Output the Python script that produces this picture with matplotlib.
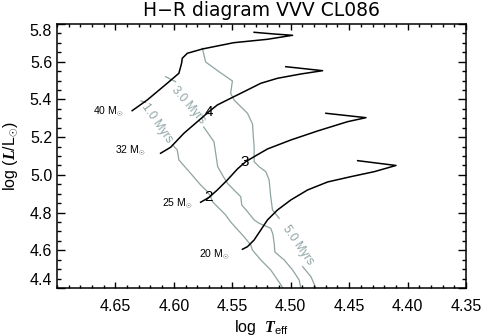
import numpy as np
import matplotlib
matplotlib.use('Agg')
import matplotlib.pyplot as plt
from matplotlib.ticker import MultipleLocator

plt.rcParams['font.family'] = ['Liberation Sans', 'DejaVu Sans']
plt.rcParams['mathtext.fontset'] = 'custom'
plt.rcParams['mathtext.rm'] = 'Liberation Sans'
plt.rcParams['mathtext.it'] = 'Liberation Serif:italic:bold'
plt.rcParams['mathtext.bf'] = 'Liberation Serif:bold'

# evolutionary tracks (log Teff, log L/Lsun)
t40_logT = [4.6357, 4.6228, 4.6057, 4.5957, 4.5934, 4.5928, 4.5885, 4.5756,
            4.5488, 4.5199, 4.5059, 4.4984, 4.5144, 4.5313]
t40_logL = [5.3403, 5.3970, 5.4856, 5.5386, 5.5916, 5.6181, 5.6446, 5.6674,
            5.7008, 5.7189, 5.7327, 5.7401, 5.7470, 5.7560]

t32_logT = [4.6114, 4.6028, 4.5914, 4.5799, 4.5700, 4.5628, 4.5514, 4.5400,
            4.5256, 4.5113, 4.4913, 4.4727, 4.5042]
t32_logL = [5.1144, 5.1462, 5.2205, 5.2820, 5.3350, 5.3705, 5.4060, 5.4410,
            5.4856, 5.5121, 5.5349, 5.5524, 5.5736]

t25_logT = [4.5771, 4.5700, 4.5628, 4.5542, 4.5456, 4.5385, 4.5313, 4.5199,
            4.4999, 4.4770, 4.4513, 4.4356, 4.4699]
t25_logL = [4.8546, 4.8801, 4.9198, 4.9729, 5.0312, 5.0699, 5.0964, 5.1372,
            5.1849, 5.2327, 5.2820, 5.3032, 5.3265]

t20_logT = [4.5413, 4.5370, 4.5313, 4.5256, 4.5199, 4.5113, 4.4999, 4.4856,
            4.4684, 4.4485, 4.4285, 4.4099, 4.4427]
t20_logL = [4.6054, 4.6192, 4.6547, 4.7077, 4.7608, 4.8138, 4.8668, 4.9198,
            4.9623, 4.9904, 5.0169, 5.0497, 5.0752]

tracks = [(t40_logT, t40_logL), (t32_logT, t32_logL),
          (t25_logT, t25_logL), (t20_logT, t20_logL)]
track_names = ['40 M$_{\\odot}$', '32 M$_{\\odot}$', '25 M$_{\\odot}$', '20 M$_{\\odot}$']
name_x = [4.6431, 4.6242, 4.5842, 4.5528]
name_y = [5.3387, 5.1319, 4.8525, 4.5800]

# isochrones (nan = gap where the label sits)
iso1_logT = [4.6281, 4.6242, np.nan, 4.6011, 4.5971, 4.5957, 4.5857, 4.5771,
             4.5713, 4.5685, 4.5670, 4.5614, 4.5557, 4.5514, 4.5400, 4.5342,
             4.5328, 4.5256, 4.5171, 4.5055]
iso1_logL = [5.3917, 5.3838, np.nan, 5.1584, 5.1319, 5.0789, 5.0084, 4.9463,
             4.9108, 4.8843, 4.8578, 4.8228, 4.7873, 4.7502, 4.6722, 4.6282,
             4.6017, 4.5487, 4.4957, 4.3900]

iso3_logT = [4.6071, 4.5985, np.nan, 4.5745, 4.5657, 4.5642, 4.5625, 4.5585,
             4.5542, 4.5471, 4.5428, 4.5419, 4.5370, 4.5313, 4.5271, 4.5171,
             4.5153, 4.5140, 4.5136, 4.5056, 4.4984, 4.4928, 4.4910]
iso3_logL = [5.5206, 5.4941, np.nan, 5.2539, 5.1759, 5.1144, 5.0434, 4.9994,
             4.9554, 4.9108, 4.8843, 4.8403, 4.8048, 4.7608, 4.7433, 4.7168,
             4.6866, 4.6282, 4.5910, 4.5487, 4.4957, 4.4427, 4.3900]

iso5_logT = [4.5756, 4.5728, 4.5614, 4.5499, 4.5514, 4.5485, 4.5370, 4.5327,
             4.5320, 4.5313, 4.5313, 4.5271, 4.5213, 4.5185, 4.5171, 4.5156,
             4.5099, np.nan, 4.4898, 4.4827, 4.4778]
iso5_logL = [5.6712, 5.5985, 5.5471, 5.4978, 5.4326, 5.3970, 5.3265, 5.2698,
             5.2024, 5.1494, 5.0699, 5.0434, 5.0169, 4.9729, 4.8843, 4.8138,
             4.7698, np.nan, 4.5132, 4.4601, 4.3900]

isochrones = [(iso1_logT, iso1_logL), (iso3_logT, iso3_logL), (iso5_logT, iso5_logL)]
iso_labels = ['1.0 Myrs', '3.0 Myrs', '5.0 Myrs']
iso_lab_x = [4.6142, 4.5878, 4.4941]
iso_lab_y = [5.2735, 5.3705, 4.6282]
iso_lab_rot = [-55, -49, -55]

# numbers written on the tracks
mark_text = ['4', '3', '2']
mark_x = [4.5702, 4.5390, 4.5702]
mark_y = [5.3334, 5.0699, 4.8827]

iso_color = '#8fa3a3'

fig = plt.figure(figsize=(4.84, 3.36), dpi=100)
ax = fig.add_axes([0.1178, 0.1429, 0.845, 0.7857])

for (lt, ll) in isochrones:
    ax.plot(lt, ll, color=iso_color, lw=0.9, zorder=1)
for i in range(len(iso_labels)):
    ax.text(iso_lab_x[i], iso_lab_y[i], iso_labels[i], color=iso_color,
            fontsize=8.5, rotation=iso_lab_rot[i], rotation_mode='anchor',
            ha='center', va='center', zorder=2)

for (lt, ll) in tracks:
    ax.plot(lt, ll, color='black', lw=1.1, zorder=3)
for i in range(len(track_names)):
    ax.text(name_x[i], name_y[i], track_names[i], fontsize=7.5,
            ha='right', va='center', zorder=4)
for i in range(len(mark_text)):
    ax.text(mark_x[i], mark_y[i], mark_text[i], fontsize=11,
            ha='center', va='center', zorder=4)

ax.set_xlim(4.70, 4.35)
ax.set_ylim(4.4, 5.8)
xt = [4.65, 4.60, 4.55, 4.50, 4.45, 4.40, 4.35]
ax.set_xticks(xt, labels=['%.2f' % v for v in xt])
yt = [4.4, 4.6, 4.8, 5.0, 5.2, 5.4, 5.6, 5.8]
yticks = ax.set_yticks(yt, labels=['%.1f' % v for v in yt])
yticks[0].label1.set_va('bottom')
yticks[-1].label1.set_va('top')
ax.xaxis.set_minor_locator(MultipleLocator(0.01))
ax.yaxis.set_minor_locator(MultipleLocator(0.05))

ax.tick_params(which='both', direction='in', top=True, right=True, width=1.0,
               labelsize=11.5)
ax.tick_params(axis='x', which='major', length=4, pad=8)
ax.tick_params(axis='x', which='minor', length=2.2)
ax.tick_params(axis='y', which='major', length=5.8, pad=3.5)
ax.tick_params(axis='y', which='minor', length=2.9)
for s in ax.spines.values():
    s.set_linewidth(1.1)

ax.set_title('H\u2212R diagram VVV CL086', fontsize=13.5, pad=6,
             family='DejaVu Sans')
ax.set_xlabel('log  $\\mathit{T}_{\\rm eff}$', fontsize=11.5)
ax.set_ylabel('log ($\\mathit{L}$/L$_{\\odot}$)', fontsize=11.5)
ax.xaxis.set_label_coords(0.5, -0.115)
ax.yaxis.label.set_va('center')
ax.yaxis.set_label_coords(-0.112, 0.5)

fig.savefig('out.png', dpi=100)
